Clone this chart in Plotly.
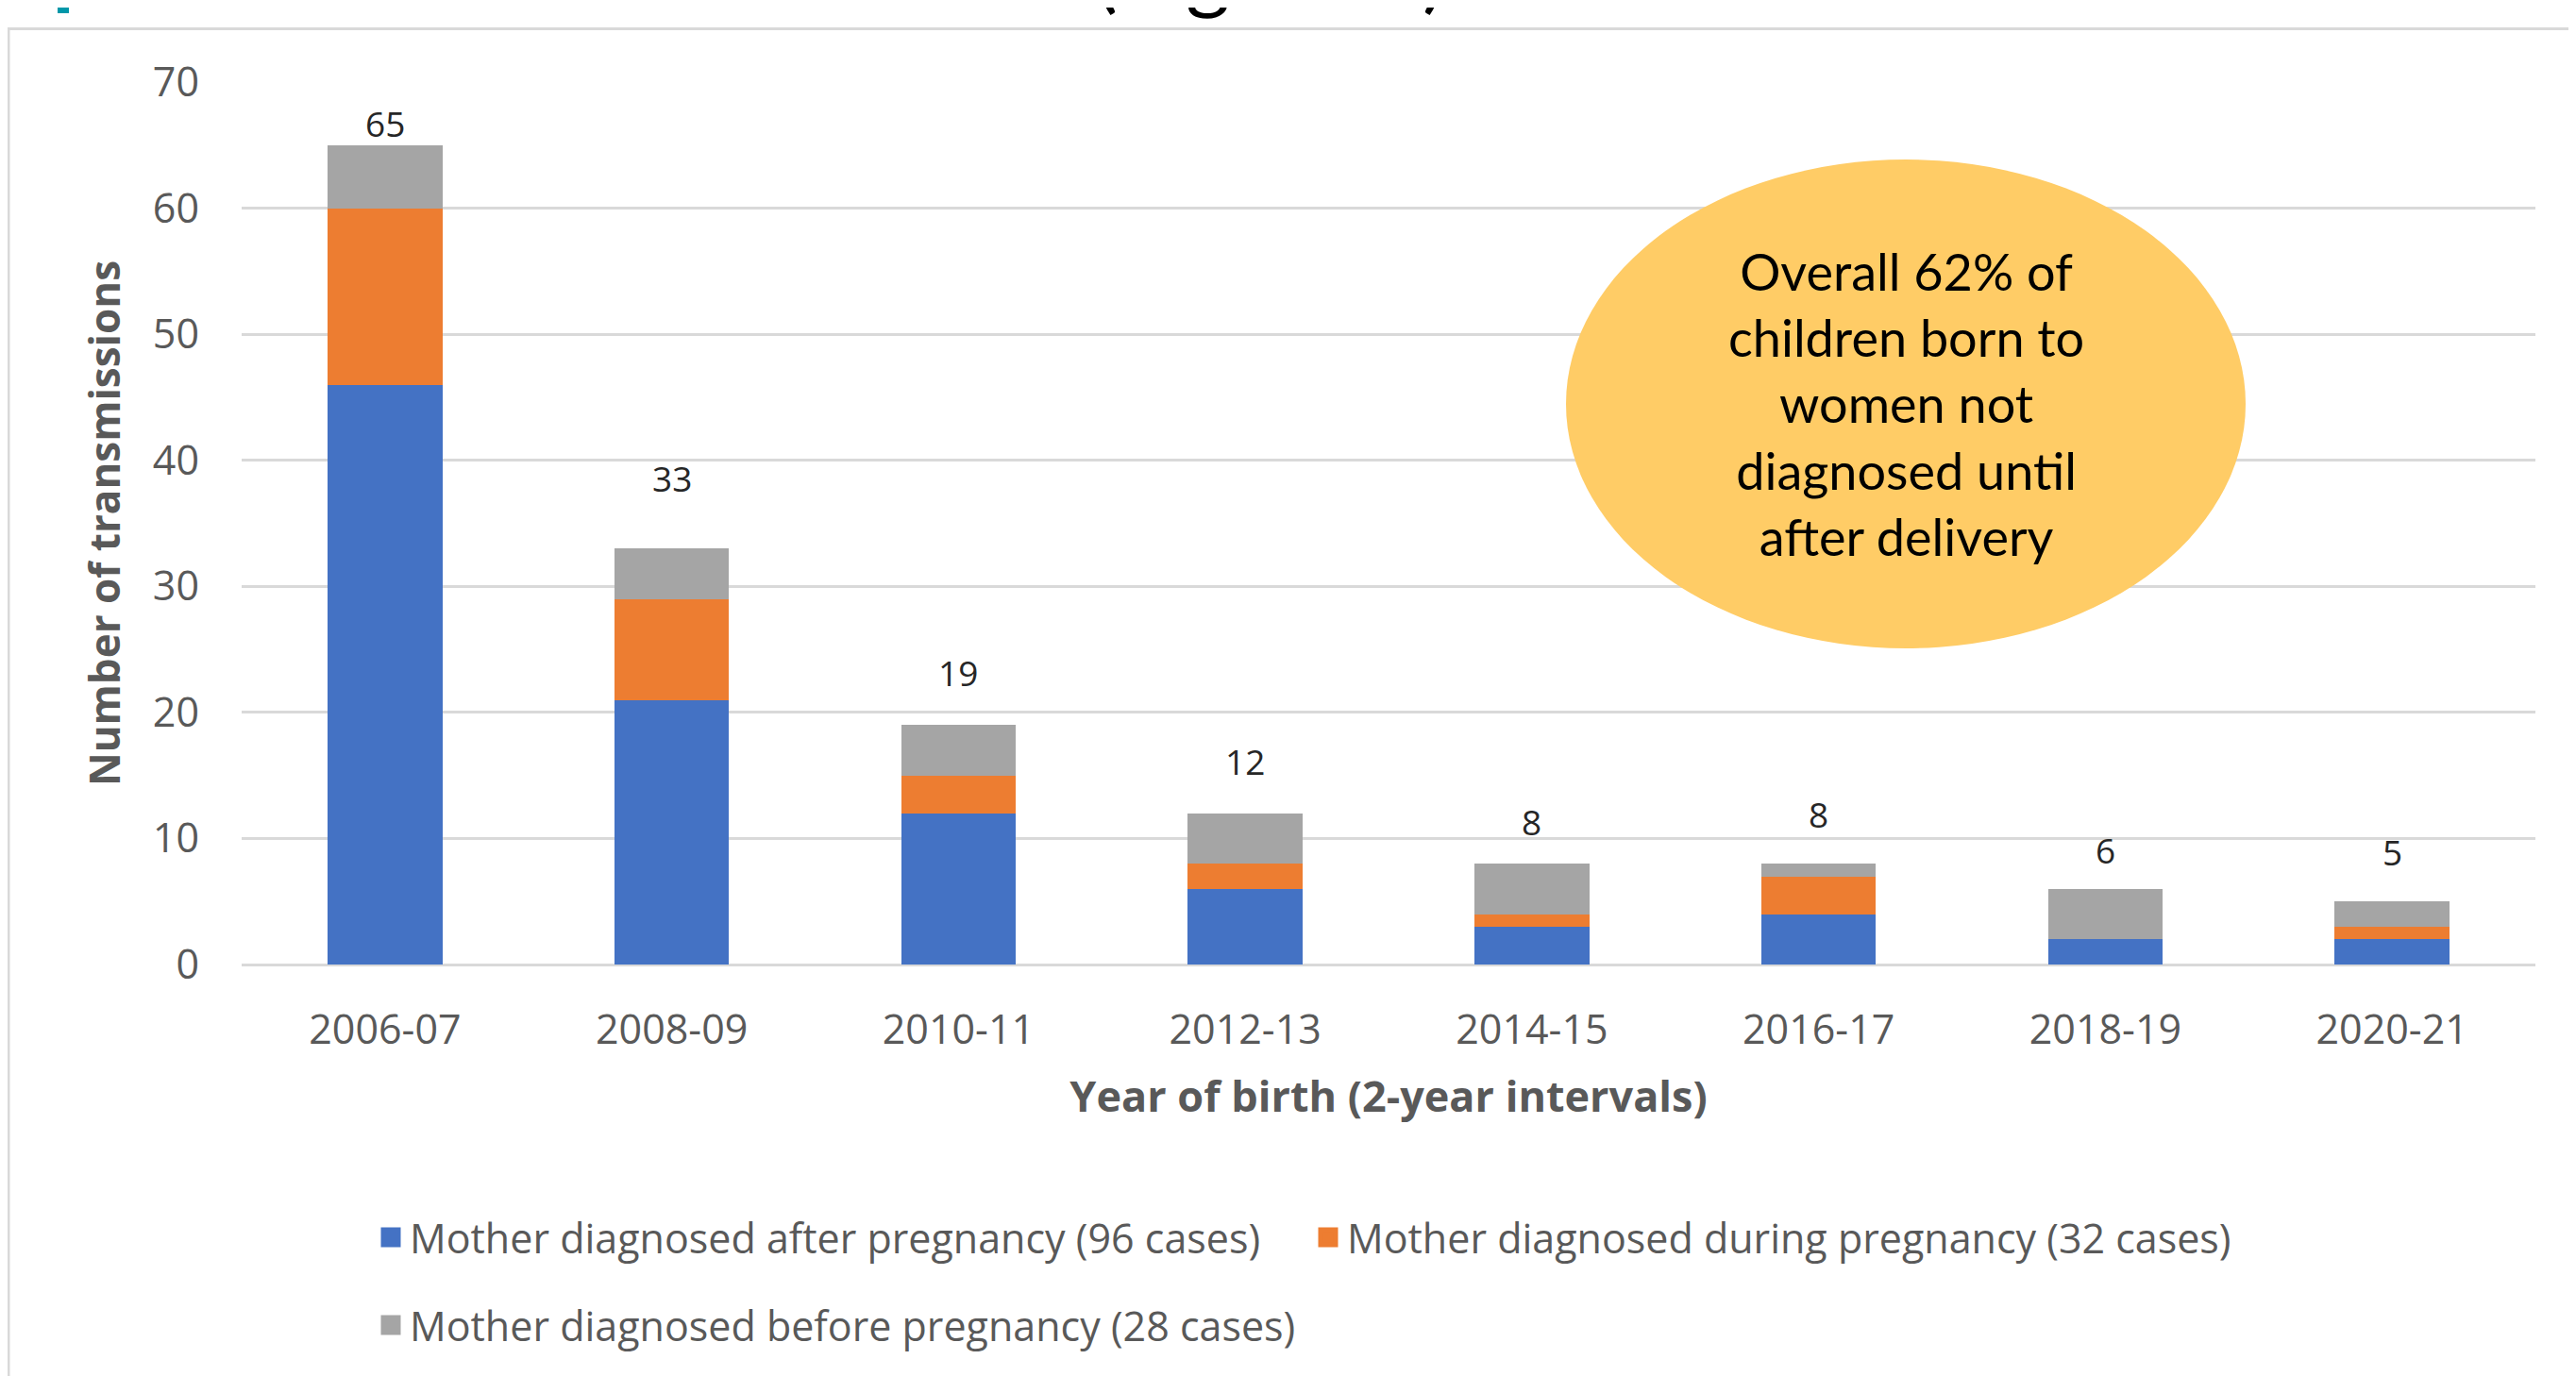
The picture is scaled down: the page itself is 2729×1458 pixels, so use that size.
import plotly.graph_objects as go

# ---- data ----
categories = ["2006-07", "2008-09", "2010-11", "2012-13", "2014-15", "2016-17", "2018-19", "2020-21"]
after_pregnancy = [46, 21, 12, 6, 3, 4, 2, 2]
during_pregnancy = [14, 8, 3, 2, 1, 3, 0, 1]
before_pregnancy = [5, 4, 4, 4, 4, 1, 4, 2]
series_names = [
    "Mother diagnosed after pregnancy (96 cases)",
    "Mother diagnosed during pregnancy (32 cases)",
    "Mother diagnosed before pregnancy (28 cases)",
]
totals = [a + b + c for a, b, c in zip(after_pregnancy, during_pregnancy, before_pregnancy)]
callout_text = "Overall 62% of<br>children born to<br>women not<br>diagnosed until<br>after delivery"
title_fragment = "(Figure 1)"

# ---- styling ----
colors = ["#4472C4", "#ED7D31", "#A5A5A5"]
label_shift_px = [23, 75, 56, 55, 45, 53, 41, 53]
W, H = 2729, 1458          # target screenshot size
BODY = 8                   # default page body margin of the html page
L, R, T, B = 256, 43, 87, 436
PW, PH = W - L - R, H - T - B


def px_x(x):
    return (x - L) / PW


def px_y(y):
    return (H - B - y) / PH


fig = go.Figure()
series = [after_pregnancy, during_pregnancy, before_pregnancy]
for vals, name, col in zip(series, series_names, colors):
    fig.add_trace(go.Bar(x=categories, y=vals, name=name, marker=dict(color=col, line=dict(width=0)),
                         showlegend=False))

# legend proxies (larger square symbols)
legend_ids = ["legend", "legend", "legend2"]
for name, col, lg in zip(series_names, colors, legend_ids):
    fig.add_trace(go.Scatter(x=[None], y=[None], mode="markers", name=name, legend=lg,
                             marker=dict(symbol="square", size=16, color=col,
                                         line=dict(color=col, width=5))))

annotations = []
for cat, tot, sh in zip(categories, totals, label_shift_px):
    annotations.append(dict(x=cat, y=tot, xref="x", yref="y", text=str(tot), showarrow=False,
                            yanchor="middle", yshift=sh,
                            font=dict(family="Open Sans", size=37, color="#262626")))

annotations.append(dict(x=px_x(2019), y=px_y(428), xref="paper", yref="paper", text=callout_text,
                        showarrow=False, xanchor="center", yanchor="middle", align="center",
                        font=dict(family="Lato", size=54, color="#000000")))
annotations.append(dict(x=px_x(1345), y=px_y(24), xref="paper", yref="paper", text=title_fragment,
                        showarrow=False, xanchor="center", yanchor="bottom",
                        font=dict(family="Lato", size=90, color="#000000")))

shapes = [
    dict(type="rect", xref="paper", yref="paper", x0=px_x(9), x1=px_x(W + 20), y0=px_y(30.5), y1=px_y(H + 20),
         line=dict(color="#D9D9D9", width=3), fillcolor="rgba(0,0,0,0)", layer="below"),
    dict(type="rect", xref="paper", yref="paper", x0=px_x(61), x1=px_x(73), y0=px_y(-5), y1=px_y(14),
         line=dict(width=0), fillcolor="#0097A9", layer="above"),
    dict(type="circle", xref="paper", yref="paper", x0=px_x(1659), x1=px_x(2379), y0=px_y(687), y1=px_y(169),
         line=dict(width=0), fillcolor="#FFCC66", layer="above"),
]

fig.update_layout(
    width=W - BODY, height=H - BODY,
    margin=dict(l=L - BODY, r=R, t=T - BODY, b=B, autoexpand=False),
    paper_bgcolor="white", plot_bgcolor="white",
    font=dict(family="Open Sans", size=43, color="#595959"),
    barmode="stack", bargap=0.6,
    shapes=shapes, annotations=annotations,
    legend=dict(orientation="h", x=px_x(394), xanchor="left", y=px_y(1311), yanchor="middle",
                traceorder="normal",
                font=dict(size=43, color="#595959"), entrywidth=948, entrywidthmode="pixels",
                bgcolor="rgba(0,0,0,0)"),
    legend2=dict(orientation="h", x=px_x(394), xanchor="left", y=px_y(1404), yanchor="middle",
                 traceorder="normal",
                 font=dict(size=43, color="#595959"), bgcolor="rgba(0,0,0,0)"),
)

fig.update_xaxes(
    type="category",
    showgrid=False, showline=False, ticks="", ticklabelstandoff=40,
    tickfont=dict(size=43, color="#595959"),
    title=dict(text="<b>Year of birth (2-year intervals)</b>", font=dict(size=45, color="#595959"), standoff=28),
)
fig.update_yaxes(
    range=[0, 70], dtick=10, showgrid=True, gridcolor="#D9D9D9", gridwidth=3,
    zeroline=True, zerolinecolor="#D9D9D9", zerolinewidth=3,
    showline=False, ticks="", ticklabelstandoff=44,
    tickfont=dict(size=43, color="#595959"),
    title=dict(text="<b>Number of transmissions</b>", font=dict(size=44, color="#595959"), standoff=20),
)

fig.write_html("out.html")
